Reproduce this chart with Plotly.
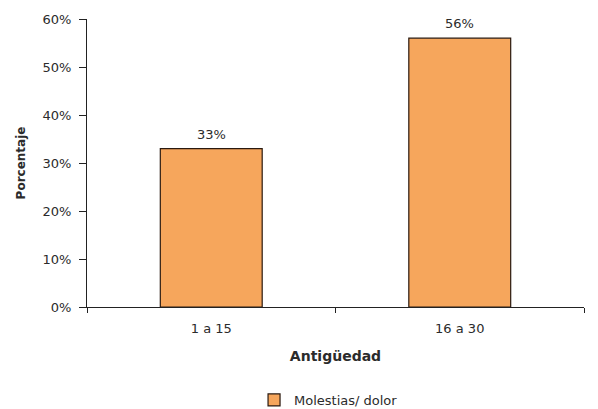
import plotly.graph_objects as go

categories = ["1 a 15", "16 a 30"]
values = [33, 56]
series_name = "Molestias/ dolor"
y_ticks = [0, 10, 20, 30, 40, 50, 60]

FONT = "DejaVu Sans, Verdana, Arial"
TEXT = "#2b2b2b"

fig = go.Figure()
fig.add_trace(go.Bar(
    x=categories,
    y=values,
    name=series_name,
    width=0.41,
    marker=dict(color="#F6A65C", line=dict(color="#2a1a10", width=1.2)),
    showlegend=True,
))

# value labels sitting just above each bar
for cat, v in zip(categories, values):
    fig.add_annotation(
        x=cat, y=v, text=f"{v}%", showarrow=False,
        yanchor="bottom", yshift=5,
        font=dict(family=FONT, size=13, color=TEXT),
    )

fig.update_layout(
    width=598, height=409,
    margin=dict(l=87, r=14, t=19, b=102),
    paper_bgcolor="white", plot_bgcolor="white",
    font=dict(family=FONT, size=13, color=TEXT),
    bargap=0.59,
    showlegend=True,
    legend=dict(
        orientation="h", x=0.486, xanchor="center",
        yref="container", y=0.022, yanchor="middle",
        font=dict(family=FONT, size=13, color=TEXT),
    ),
    xaxis=dict(
        title=dict(text="<b>Antigüedad</b>", font=dict(family=FONT, size=14, color=TEXT), standoff=16),
        automargin=False,
        showline=True, linecolor="#222", linewidth=1.2,
        ticks="outside", tickson="boundaries", ticklen=5, tickcolor="#222",
        ticklabelstandoff=9,
        tickfont=dict(size=13),
        showgrid=False,
    ),
    yaxis=dict(
        title=dict(text="<b>Porcentaje</b>", font=dict(family=FONT, size=12, color=TEXT), standoff=14),
        automargin=False,
        range=[0, 60],
        tickvals=y_ticks,
        ticktext=[f"{t}%" for t in y_ticks],
        showline=True, linecolor="#222", linewidth=1.2,
        ticks="outside", ticklen=7, tickcolor="#222",
        ticklabelstandoff=5,
        tickfont=dict(size=13),
        showgrid=False, zeroline=False,
    ),
)

fig.write_html("out.html")
